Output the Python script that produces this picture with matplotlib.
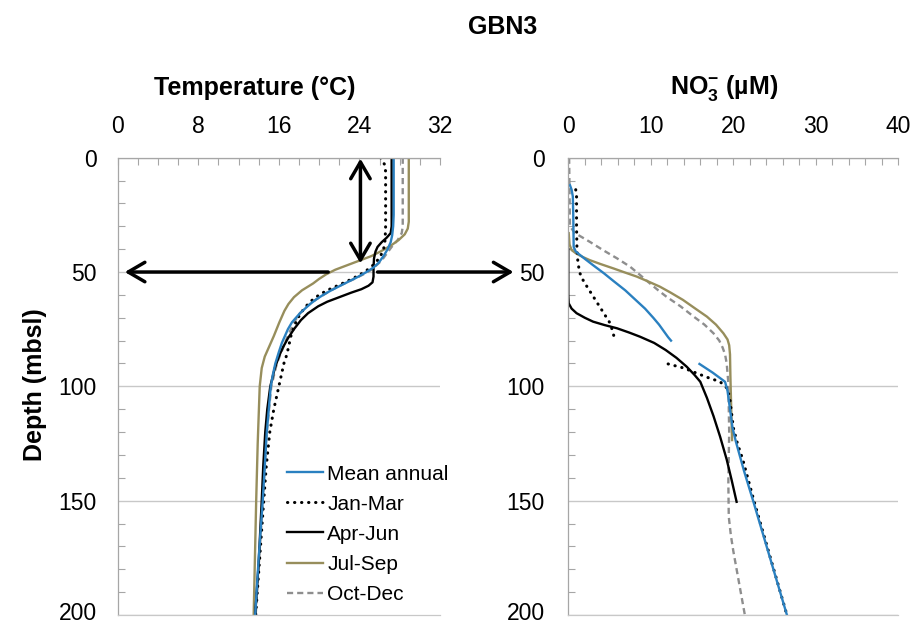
import numpy as np
import matplotlib
matplotlib.use("Agg")
import matplotlib.pyplot as plt
from matplotlib.ticker import MultipleLocator
from matplotlib.transforms import ScaledTranslation

plt.rcParams['font.family'] = ['Liberation Sans', 'DejaVu Sans']
plt.rcParams['mathtext.fontset'] = 'custom'
plt.rcParams['mathtext.rm'] = 'Liberation Sans'
plt.rcParams['mathtext.bf'] = 'Liberation Sans:bold'

nan = np.nan

# ---- Temperature profiles (depth in m, temperature in degC) ----
t_mean_depth = [0, 25, 30, 34, 37, 40, 43, 46, 48, 50, 52, 54, 56, 58, 60, 62, 64, 66, 68, 70, 72, 75,
                78, 81, 85, 90, 95, 100, 110, 120, 135, 150, 175, 200]
t_mean_val = [27.4, 27.4, 27.35, 27.25, 27.1, 26.8, 26.4, 25.9, 25.4, 24.7, 23.9, 23.0, 22.1, 21.2, 20.4,
              19.7, 19.1, 18.6, 18.1, 17.7, 17.3, 16.9, 16.6, 16.3, 16.0, 15.65, 15.4, 15.2, 15.0, 14.8,
              14.6, 14.4, 14.0, 13.65]

t_jan_depth = [0, 3, 6, 30, 36, 40, 43, 46, 48, 50, 52, 54, 56, 58, 60, 63, 66, 70, 74, 78, 82, 86, 90,
               95, 100, 110, 120, 135, 150, 175, 200]
t_jan_val = [26.1, 26.5, 26.6, 26.6, 26.55, 26.4, 26.1, 25.6, 25.1, 24.5, 23.7, 22.8, 21.8, 20.8, 20.0,
             19.1, 18.5, 17.9, 17.5, 17.2, 17.0, 16.8, 16.5, 16.25, 16.0, 15.5, 15.1, 14.75, 14.5, 14.1, 13.7]

t_apr_depth = [0, 30, 33, 35, 37, 39, 41, 44, 48, 52, 54.5, 56, 57.5, 59, 61, 63, 65, 68, 71, 75, 79, 83,
               87, 92, 100, 110, 120, 135, 150, 177, 200]
t_apr_val = [27.2, 27.2, 27.1, 26.7, 26.2, 25.8, 25.6, 25.45, 25.4, 25.4, 25.3, 24.9, 24.2, 23.2, 22.0,
             20.8, 19.9, 18.9, 18.2, 17.5, 16.9, 16.4, 16.0, 15.6, 15.15, 14.85, 14.65, 14.45, 14.3, 14.0, 13.65]

t_jul_depth = [0, 28, 31, 33.5, 36, 38.5, 41, 43, 45, 47, 49, 51, 53, 55, 58, 61, 64, 67, 72, 78, 83, 87,
               92, 100, 125, 150, 200]
t_jul_val = [28.9, 28.9, 28.8, 28.5, 27.9, 27.1, 26.1, 25.2, 24.0, 22.8, 21.6, 20.7, 20.0, 19.4, 18.3,
             17.5, 16.95, 16.55, 16.05, 15.5, 15.0, 14.6, 14.3, 14.1, 13.9, 13.75, 13.5]

t_oct_depth = [0, 30, 33, 36, 39, 42, 45, 47, 49, 51, 53, 55, 57, 59, 62, 65, 68, 72, 76, 80, 85, 90, 100,
               120, 150, 200]
t_oct_val = [28.3, 28.3, 28.2, 27.8, 27.2, 26.7, 26.2, 25.7, 25.2, 24.4, 23.5, 22.5, 21.6, 20.8, 19.7,
             18.8, 18.1, 17.5, 17.1, 16.7, 16.25, 15.8, 15.25, 14.8, 14.4, 13.7]

# ---- Nitrate profiles (depth in m, NO3- in uM); nan marks a gap in the profile ----
n_mean_depth = [12, 14, 17, 25, 39, 41, 42.5, 44.5, 47, 50.5, 54, 58, 62, 66, 70, 73, 76, 78.5, 80, nan,
                90.2, 94, 98, 102, 110, 118, 124, 137, 150, 175, 200]
n_mean_val = [0.2, 0.4, 0.55, 0.6, 0.65, 0.9, 1.4, 2.1, 3.0, 4.3, 5.5, 6.9, 8.1, 9.3, 10.3, 11.0, 11.6,
              12.1, 12.45, nan, 15.9, 17.5, 19.0, 19.3, 19.6, 19.9, 20.3, 21.3, 22.4, 24.45, 26.5]

n_jan_depth = [14, 17, 30, 40, 45, 50, 53, 56, 60, 64, 68, 72, 75, 79, nan, 90.2, 92, 94.3, 96, 98, 101,
               106, 112, 118, 125, 132, 150, 175, 200]
n_jan_val = [0.9, 1.0, 1.0, 1.05, 1.15, 1.35, 1.7, 2.2, 2.9, 3.6, 4.3, 5.0, 5.3, 5.6, nan, 12.1, 14.0,
             15.6, 16.8, 18.4, 19.3, 19.6, 19.8, 20.0, 20.5, 21.15, 22.5, 24.5, 26.5]

n_apr_depth = [40, 60, 63.7, 66, 68, 70, 71.7, 73.2, 74.6, 76.5, 78.3, 81, 84.1, 87.5, 91.4, 95, 98, 105,
               113, 122, 132, 141, 150.5]
n_apr_val = [0.0, 0.0, 0.05, 0.4, 1.0, 2.0, 3.0, 4.4, 5.9, 7.4, 8.7, 10.4, 11.8, 13.1, 14.35, 15.3, 16.0,
             16.8, 17.6, 18.4, 19.2, 19.8, 20.4]

n_jul_depth = [33, 38, 40.4, 42, 43.5, 44.8, 46.5, 48.4, 50, 52, 54, 56.4, 59, 62.2, 66, 69.5, 73, 76.8,
               79.5, 82, 86, 95.8, 110, 123.5]
n_jul_val = [0.05, 0.15, 0.4, 1.0, 1.8, 2.6, 3.9, 5.45, 6.7, 8.3, 9.6, 11.1, 12.4, 13.9, 15.4, 16.8, 17.9,
             18.8, 19.3, 19.5, 19.6, 19.65, 19.75, 19.85]

n_oct_depth = [0, 30, 33, 33.8, 37, 40.4, 44, 47.7, 51, 55, 58, 60.8, 65, 69.5, 73, 76.8, 80, 83, 86, 90,
               98.6, 120, 142, 157, 165, 172, 186, 200]
n_oct_val = [0.1, 0.2, 0.8, 1.2, 2.7, 4.2, 5.9, 7.5, 8.6, 9.9, 10.9, 11.9, 13.6, 15.2, 16.5, 17.6, 18.3,
             18.7, 19.0, 19.2, 19.4, 19.5, 19.4, 19.45, 19.7, 20.0, 20.7, 21.4]

season_labels = ['Mean annual', 'Jan-Mar', 'Apr-Jun', 'Jul-Sep', 'Oct-Dec']
temp_ticks = [0, 8, 16, 24, 32]
no3_ticks = [0, 10, 20, 30, 40]
depth_ticks = [0, 50, 100, 150, 200]

styles = [
    dict(color='#2A80C0', lw=1.7, ls='-'),
    dict(color='black', lw=2.2, ls=(0, (0.1, 2.2)), dash_capstyle='round'),
    dict(color='black', lw=1.7, ls='-'),
    dict(color='#978E5C', lw=1.7, ls='-'),
    dict(color='#8E8E8E', lw=1.7, ls=(0, (2.6, 1.7))),
]

W, H = 914, 624
fig = plt.figure(figsize=(W / 100, H / 100), dpi=100)
fig.patch.set_facecolor('white')


def fx(px):
    return px / W


def fy(py):
    return 1 - py / H


ax1 = fig.add_axes([fx(117.7), fy(615), (440 - 117.7) / W, (615 - 157.7) / H])
ax2 = fig.add_axes([fx(568.3), fy(615), (898.3 - 568.3) / W, (615 - 157.7) / H])

grey_axis = '#A6A6A6'
grid_col = '#C8C8C8'

for ax, xticks, ypad in ((ax1, temp_ticks, 15.0), (ax2, no3_ticks, 16.8)):
    ax.set_xlim(xticks[0], xticks[-1])
    ax.set_ylim(200, 0)
    ax.xaxis.tick_top()
    ax.set_xticks(xticks)
    ax.xaxis.set_minor_locator(MultipleLocator(2))
    ax.set_yticks(depth_ticks)
    ax.yaxis.set_minor_locator(MultipleLocator(10))
    ax.tick_params(axis='x', which='both', direction='in', length=5, width=0.8,
                   color=grey_axis, labelsize=16.5, pad=14.0, top=True, bottom=False)
    ax.tick_params(axis='y', which='both', direction='in', length=5, width=0.8,
                   color=grey_axis, labelsize=16.5, pad=ypad, left=True, right=False)
    ax.tick_params(axis='y', which='major', length=0)
    ax.spines['right'].set_visible(False)
    for s in ('left', 'top', 'bottom'):
        ax.spines[s].set_color(grey_axis)
        ax.spines[s].set_linewidth(0.9)
    ax.spines['bottom'].set_color(grid_col)
    ax.yaxis.grid(True, which='major', color=grid_col, lw=1.0)
    ax.set_axisbelow(True)
    # nudge the bottom depth label up so it stays inside the figure
    lab = ax.get_yticklabels()[-1]
    lab.set_transform(lab.get_transform() + ScaledTranslation(0, 4 / 100, fig.dpi_scale_trans))

temp_series = [(t_mean_val, t_mean_depth), (t_jan_val, t_jan_depth), (t_apr_val, t_apr_depth),
               (t_jul_val, t_jul_depth), (t_oct_val, t_oct_depth)]
no3_series = [(n_mean_val, n_mean_depth), (n_jan_val, n_jan_depth), (n_apr_val, n_apr_depth),
              (n_jul_val, n_jul_depth), (n_oct_val, n_oct_depth)]

# draw back-to-front so the mean profile sits on top
order = [4, 3, 2, 1, 0]
handles = [None] * 5
for i in order:
    x, d = temp_series[i]
    h, = ax1.plot(x, d, label=season_labels[i], solid_joinstyle='round', **styles[i])
    handles[i] = h
    x, d = no3_series[i]
    ax2.plot(x, d, solid_joinstyle='round', **styles[i])

# mixed-layer annotation arrows
arrow_kw = dict(arrowstyle='->,head_length=0.6,head_width=0.35', lw=2.5, color='black',
                shrinkA=0, shrinkB=0, mutation_scale=20)
ax1.annotate('', xy=(0.7, 50), xytext=(20.9, 50), arrowprops=arrow_kw, annotation_clip=False)
ax1.annotate('', xy=(39.3, 50), xytext=(25.8, 50), arrowprops=arrow_kw, annotation_clip=False)
arrow2 = dict(arrow_kw)
arrow2['arrowstyle'] = '<->,head_length=0.6,head_width=0.35'
ax1.annotate('', xy=(24.1, 0.4), xytext=(24.1, 46.2), arrowprops=arrow2, annotation_clip=False)

leg = ax1.legend(handles=handles, labels=season_labels, loc='upper left',
                 bbox_to_anchor=(fx(270), fy(448)), bbox_transform=fig.transFigure,
                 frameon=True, fancybox=False, facecolor='white', edgecolor='none', framealpha=1,
                 fontsize=15, handlelength=1.75, handletextpad=0.2,
                 labelspacing=0.53, borderpad=0.8, borderaxespad=0)
leg.set_zorder(2.4)

fig.text(fx(503), fy(27), 'GBN3', ha='center', va='center', fontsize=18, fontweight='bold')
fig.text(fx(255), fy(88), 'Temperature (°C)', ha='center', va='center', fontsize=18, fontweight='bold')
fig.text(fx(723.7), fy(88), r'NO$_{\mathbf{3}}^{\mathbf{-}}$ (µM)', ha='center', va='center',
         fontsize=18, fontweight='bold')
fig.text(fx(35), fy(385), 'Depth (mbsl)', ha='center', va='center', rotation=90,
         fontsize=18, fontweight='bold')

fig.savefig('out.png', dpi=100, facecolor='white')
